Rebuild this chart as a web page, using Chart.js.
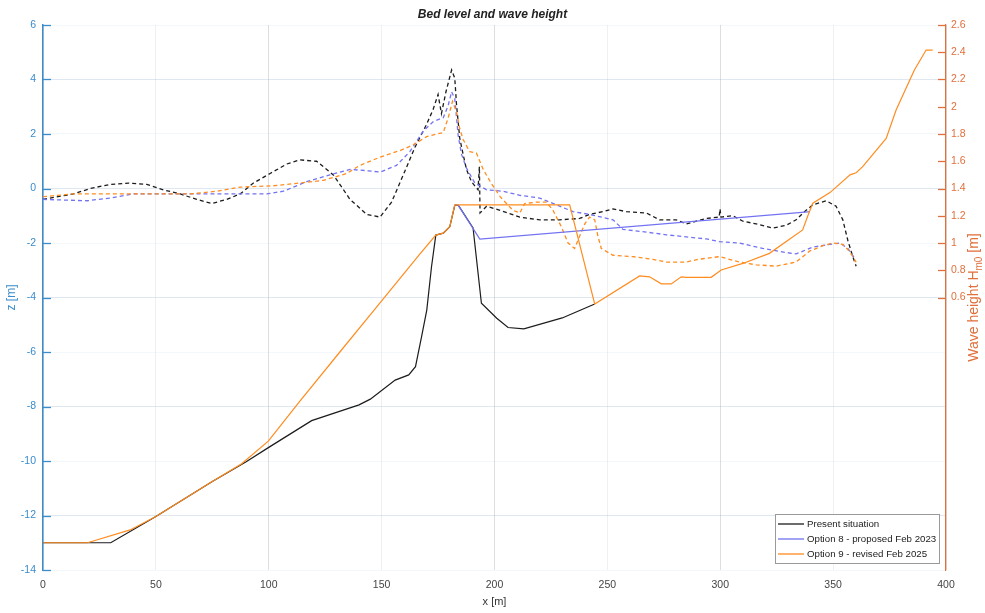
<!DOCTYPE html>
<html>
<head>
<meta charset="utf-8">
<title>Bed level and wave height</title>
<script src="https://cdn.jsdelivr.net/npm/chart.js@4.4.1/dist/chart.umd.min.js"></script>
<style>
  html, body { margin: 0; padding: 0; background: #fff; }
</style>
</head>
<body>
<canvas id="bedChart" width="985" height="613"></canvas>
<script>
// axes
const xTicks = [0, 50, 100, 150, 200, 250, 300, 350, 400];
const zTicks = [-14, -12, -10, -8, -6, -4, -2, 0, 2, 4, 6];
const hTicks = [0.6, 0.8, 1, 1.2, 1.4, 1.6, 1.8, 2, 2.2, 2.4, 2.6];
const seriesNames = ['Present situation', 'Option 8 - proposed Feb 2023', 'Option 9 - revised Feb 2025'];

// bed level z [m]
const presentBedX = [0, 30, 50, 75, 90, 100, 119, 140, 145, 156, 162, 165, 167.7, 170, 172.1, 174, 177.3, 180.2, 182.4, 184, 190.5, 194.2, 201, 206, 213, 230, 244.4];
const presentBedZ = [-13, -13, -12.04, -10.75, -10.03, -9.5, -8.52, -7.94, -7.73, -7.03, -6.84, -6.54, -5.44, -4.46, -2.87, -1.71, -1.64, -1.4, -0.62, -0.62, -1.45, -4.21, -4.76, -5.1, -5.15, -4.75, -4.24];

// option 8 only where it leaves the option 9 profile (crest to x = 339)
const opt8BedX = [182.4, 183.9, 193.5, 338.8, 339.6];
const opt8BedZ = [-0.6, -0.61, -1.86, -0.86, -0.86];

const opt9BedX = [0, 19.7, 38.6, 50, 75, 88, 99.8, 113.8, 131.5, 146.3, 167, 174, 177.3, 180.2, 182.4, 233.3, 244.4, 264.3, 268.7, 273.9, 278.3, 282.7, 285, 296, 300.4, 310, 321.8, 336.5, 338.8, 341, 348.6, 357.5, 360.2, 363.1, 373.5, 377.9, 382.3, 386, 391.2, 394.1];
const opt9BedZ = [-13, -13, -12.53, -12.04, -10.75, -10.1, -9.27, -7.8, -6.0, -4.5, -2.4, -1.71, -1.64, -1.4, -0.6, -0.6, -4.24, -3.21, -3.24, -3.5, -3.5, -3.24, -3.26, -3.26, -2.99, -2.75, -2.38, -1.52, -1.0, -0.54, -0.15, 0.5, 0.58, 0.8, 1.84, 2.88, 3.68, 4.35, 5.08, 5.08];

// wave height Hm0 [m]
const presentHX = [0, 13.5, 20.9, 29.8, 37.9, 46, 53.4, 60.8, 68.1, 74.8, 81.4, 87.3, 93.2, 100.6, 108, 113.8, 121.2, 128.6, 136, 143.4, 149.3, 154.4, 159.6, 164.7, 169.9, 172.8, 175, 176.5, 178.5, 181, 182.4, 183.2, 184.6, 186.1, 187.6, 189.8, 192.7, 193.3, 193.6, 196.5, 202.5, 211.2, 220, 228.9, 237.7, 242.1, 248, 252.5, 258.4, 267.3, 273.1, 280.5, 285, 293.8, 299.5, 299.9, 300.3, 305.6, 310, 315.9, 323.3, 329.2, 333.6, 337.3, 341, 346.9, 351.3, 354.3, 356.5, 358.7, 360.2];
const presentH = [1.32, 1.36, 1.40, 1.43, 1.44, 1.43, 1.39, 1.36, 1.32, 1.29, 1.32, 1.36, 1.44, 1.51, 1.58, 1.61, 1.60, 1.50, 1.32, 1.21, 1.19, 1.30, 1.50, 1.70, 1.87, 1.98, 2.09, 1.95, 2.11, 2.27, 2.21, 2.01, 1.77, 1.65, 1.54, 1.45, 1.39, 1.56, 1.22, 1.27, 1.24, 1.19, 1.17, 1.17, 1.18, 1.21, 1.23, 1.25, 1.23, 1.22, 1.17, 1.17, 1.14, 1.18, 1.19, 1.25, 1.19, 1.20, 1.16, 1.14, 1.11, 1.13, 1.17, 1.23, 1.28, 1.31, 1.27, 1.17, 1.02, 0.90, 0.83];

const opt8HX = [0, 19.5, 29.8, 40.1, 50.4, 65.2, 81.4, 99.1, 106.5, 116.8, 127.1, 136, 144.1, 149.3, 156.6, 162.5, 168.4, 172.8, 177.3, 179.5, 181, 182.4, 183.9, 185.4, 187.6, 191.3, 196.5, 203.8, 211.2, 220, 228.9, 234.8, 242.1, 252.5, 256.9, 267.3, 276.1, 287.9, 293.8, 299.7, 308.5, 318.8, 329.2, 333.6, 341, 348.6, 353, 356.5, 359.5];
const opt8H = [1.32, 1.31, 1.33, 1.36, 1.36, 1.36, 1.36, 1.36, 1.38, 1.45, 1.50, 1.54, 1.53, 1.52, 1.57, 1.67, 1.82, 1.89, 1.92, 2.01, 2.11, 2.06, 1.79, 1.65, 1.55, 1.44, 1.39, 1.38, 1.35, 1.33, 1.27, 1.23, 1.21, 1.17, 1.10, 1.08, 1.06, 1.04, 1.03, 1.01, 1.00, 0.96, 0.93, 0.92, 0.97, 0.99, 1.00, 0.96, 0.89];

const opt9HX = [0, 13.5, 28.3, 50.4, 65.2, 77, 87.3, 102, 113.8, 124.2, 134.5, 140.4, 149.3, 158.4, 164, 169.9, 174.3, 177.3, 179.5, 181.4, 183.2, 184.6, 186.1, 189, 192, 195, 198.5, 202.5, 205.3, 208.2, 211.2, 213.4, 218.6, 223, 225.9, 229.6, 232.6, 235.5, 237.7, 240, 242.1, 244.4, 245.8, 247.3, 252.5, 261.3, 270.2, 276.1, 285, 290.1, 299.7, 308.5, 315.9, 324.7, 333.6, 339.5, 345.4, 349.8, 354.3, 357.2, 360.2];
const opt9H = [1.34, 1.36, 1.36, 1.36, 1.36, 1.38, 1.41, 1.42, 1.44, 1.46, 1.51, 1.57, 1.63, 1.68, 1.72, 1.78, 1.80, 1.81, 1.92, 2.04, 1.96, 1.84, 1.76, 1.67, 1.66, 1.54, 1.44, 1.34, 1.29, 1.24, 1.22, 1.29, 1.30, 1.30, 1.24, 1.12, 1.00, 0.96, 1.05, 1.14, 1.19, 1.17, 1.05, 0.96, 0.91, 0.90, 0.88, 0.86, 0.86, 0.88, 0.90, 0.86, 0.84, 0.83, 0.86, 0.94, 0.98, 1.00, 0.99, 0.94, 0.86];

const zColor = '#3a8ccb';
const hColor = '#e0703c';
const colBlack = '#1c1c1c';
const colBlue = '#7272f2';
const colOrange = '#ff8c1f';

function pts(xs, ys) {
    return xs.map((x, i) => ({ x: x, y: ys[i] }));
}

function line(label, xs, ys, color, axis, dashed, order) {
    return {
        label: label,
        data: pts(xs, ys),
        yAxisID: axis,
        borderColor: color,
        borderWidth: dashed ? 1.3 : 1.2,
        borderDash: dashed ? [4, 3] : [],
        pointRadius: 0,
        tension: 0,
        fill: false,
        order: order
    };
}

// inward tick marks on both y axes, like the original plot
const innerTicks = {
    id: 'innerTicks',
    afterDatasetsDraw(chart) {
        const { ctx, chartArea: a, scales } = chart;
        ctx.save();
        ctx.lineWidth = 1.3;
        ctx.strokeStyle = zColor;
        zTicks.forEach(v => {
            const y = Math.round(scales.z.getPixelForValue(v)) + 0.5;
            ctx.beginPath(); ctx.moveTo(a.left, y); ctx.lineTo(a.left + 8, y); ctx.stroke();
        });
        ctx.strokeStyle = hColor;
        hTicks.forEach(v => {
            const y = Math.round(scales.h.getPixelForValue(v)) + 0.5;
            ctx.beginPath(); ctx.moveTo(a.right - 8, y); ctx.lineTo(a.right, y); ctx.stroke();
        });
        ctx.restore();
    }
};

// right axis title with subscript
const rightTitle = {
    id: 'rightTitle',
    afterDraw(chart) {
        const { ctx, chartArea: a } = chart;
        const parts = [['Wave height H', '14px Arial', 0], ['m0', '10px Arial', 5], [' [m]', '14px Arial', 0]];
        let total = 0;
        parts.forEach(p => { ctx.font = p[1]; total += ctx.measureText(p[0]).width; });
        ctx.save();
        ctx.translate(chart.width - 11, (a.top + a.bottom) / 2);
        ctx.rotate(-Math.PI / 2);
        ctx.fillStyle = hColor;
        ctx.textBaseline = 'middle';
        let x = -total / 2;
        parts.forEach(p => {
            ctx.font = p[1];
            ctx.fillText(p[0], x, p[2]);
            x += ctx.measureText(p[0]).width;
        });
        ctx.restore();
    }
};

// boxed legend in the lower right corner
const boxLegend = {
    id: 'boxLegend',
    afterDraw(chart) {
        const { ctx, chartArea: a } = chart;
        const colors = [colBlack, colBlue, colOrange];
        const w = 164, h = 49;
        const x0 = a.right - 171, y0 = a.bottom - 56;
        ctx.save();
        ctx.fillStyle = '#ffffff';
        ctx.fillRect(x0, y0, w, h);
        ctx.strokeStyle = '#9a9a9a';
        ctx.lineWidth = 1;
        ctx.strokeRect(x0 + 0.5, y0 + 0.5, w, h);
        ctx.font = '9.7px Arial';
        ctx.textBaseline = 'middle';
        seriesNames.forEach((name, i) => {
            const y = y0 + 10 + i * 15;
            ctx.strokeStyle = colors[i];
            ctx.lineWidth = 1.3;
            ctx.beginPath(); ctx.moveTo(x0 + 3, y); ctx.lineTo(x0 + 29, y); ctx.stroke();
            ctx.fillStyle = '#222';
            ctx.fillText(name, x0 + 32, y);
        });
        ctx.restore();
    }
};

Chart.defaults.font.family = 'Arial, "Liberation Sans", sans-serif';

const bedCtx = document.getElementById('bedChart').getContext('2d');
const bedChart = new Chart(bedCtx, {
    type: 'line',
    data: {
        datasets: [
            line(seriesNames[2], opt9BedX, opt9BedZ, colOrange, 'z', false, 0),
            line(seriesNames[1], opt8BedX, opt8BedZ, colBlue, 'z', false, 1),
            line(seriesNames[0], presentBedX, presentBedZ, colBlack, 'z', false, 2),
            line(seriesNames[2] + ' (H)', opt9HX, opt9H, colOrange, 'h', true, 3),
            line(seriesNames[1] + ' (H)', opt8HX, opt8H, colBlue, 'h', true, 4),
            line(seriesNames[0] + ' (H)', presentHX, presentH, colBlack, 'h', true, 5)
        ]
    },
    options: {
        responsive: false,
        devicePixelRatio: 1,
        animation: false,
        layout: { padding: 0 },
        plugins: {
            legend: { display: false },
            tooltip: { enabled: false },
            title: {
                display: true,
                text: 'Bed level and wave height',
                color: '#222',
                font: { size: 12, style: 'italic', weight: 'bold' },
                padding: { top: 7, bottom: 3.6 }
            }
        },
        scales: {
            x: {
                type: 'linear',
                min: 0,
                max: 400,
                afterBuildTicks: s => { s.ticks = xTicks.map(v => ({ value: v })); },
                afterFit: s => { s.height = 43; },
                grid: {
                    drawTicks: false,
                    color: c => (c.tick && c.tick.value % 100 === 0) ? 'rgba(0,0,0,0.13)' : 'rgba(0,0,0,0.06)'
                },
                border: { display: false },
                ticks: { color: '#444', font: { size: 10.5 }, padding: 9, maxRotation: 0 },
                title: { display: true, text: 'x [m]', color: '#333', font: { size: 11 }, padding: { top: 0, bottom: 4 } }
            },
            z: {
                type: 'linear',
                position: 'left',
                min: -14,
                max: 6,
                afterBuildTicks: s => { s.ticks = zTicks.map(v => ({ value: v })); },
                afterFit: s => { s.width = 43; },
                grid: {
                    drawTicks: false,
                    color: c => (c.tick && c.tick.value % 4 === 0) ? 'rgba(110,150,185,0.22)' : 'rgba(110,150,185,0.07)'
                },
                border: { display: true, color: zColor, width: 1.5 },
                ticks: { color: zColor, font: { size: 10.5 }, padding: 7 },
                title: { display: true, text: 'z [m]', color: zColor, font: { size: 12 }, padding: { top: 4, bottom: 0 } }
            },
            h: {
                type: 'linear',
                position: 'right',
                min: -1.4,
                max: 2.6,
                afterBuildTicks: s => { s.ticks = hTicks.map(v => ({ value: v })); },
                afterFit: s => { s.width = 39; },
                grid: { display: false, drawTicks: false },
                border: { display: true, color: hColor, width: 1.2 },
                ticks: {
                    color: hColor,
                    font: { size: 10.5 },
                    padding: 5,
                    callback: v => String(Number(v.toFixed(1)))
                }
            }
        }
    },
    plugins: [innerTicks, rightTitle, boxLegend]
});
</script>
</body>
</html>
